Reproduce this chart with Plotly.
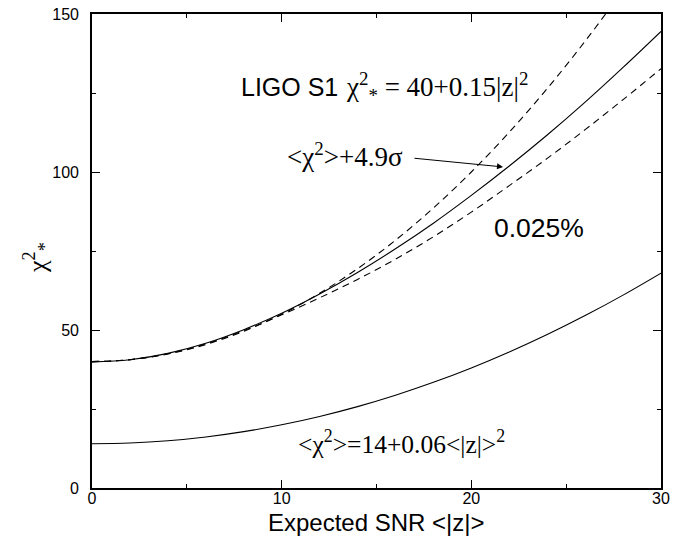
import plotly.graph_objects as go

# Expected SNR grid
snr = [0, 2, 4, 6, 8, 10, 12, 14, 16, 18, 20, 22, 24, 26, 28, 30]

# Mean chi-squared  <chi^2> = 14 + 0.06 <|z|>^2
chi2_mean = [14.0, 14.24, 14.96, 16.16, 17.84, 20.0, 22.64, 25.76, 29.36,
             33.44, 38.0, 43.04, 48.56, 54.56, 61.04, 68.0]

# <chi^2> + 4.9 sigma
chi2_mean_4p9sigma = [39.9, 40.6, 42.6, 45.8, 50.1, 55.3, 61.4, 68.2, 75.7,
                      83.8, 92.6, 101.9, 111.7, 122.1, 133.1, 144.5]

# LIGO S1 threshold  chi^2_* = 40 + 0.15 |z|^2
chi2_threshold = [40.0, 40.6, 42.4, 45.4, 49.6, 55.0, 61.6, 69.4, 78.4,
                  88.6, 100.0, 112.6, 126.4, 141.4, 157.6, 175.0]

# 0.025% false-dismissal level
chi2_0025pct = [40.0, 40.6, 42.5, 45.6, 49.8, 54.8, 60.2, 66.0, 72.4,
                79.5, 87.3, 95.7, 104.3, 113.4, 122.9, 132.7]

x_ticks = [0, 10, 20, 30]
y_ticks = [0, 50, 100, 150]

SANS = "Liberation Sans, Arial, Helvetica, sans-serif"
SERIF = "Liberation Serif, Times New Roman, serif"

fig = go.Figure()

solid = dict(color="black", width=1.1)
dashed = dict(color="black", width=1.1, dash="7px,5px")

fig.add_trace(go.Scatter(x=snr, y=chi2_threshold, mode="lines",
                         line=dict(**dashed, shape="spline")))
fig.add_trace(go.Scatter(x=snr, y=chi2_0025pct, mode="lines",
                         line=dict(**dashed, shape="spline")))
fig.add_trace(go.Scatter(x=snr, y=chi2_mean_4p9sigma, mode="lines",
                         line=dict(**solid, shape="spline")))
fig.add_trace(go.Scatter(x=snr, y=chi2_mean, mode="lines",
                         line=dict(**solid, shape="spline")))

annotations = [
    dict(x=7.75, y=127.0, text="LIGO S1",
         font=dict(family=SANS, size=25, color="black"),
         xanchor="left", yanchor="middle", showarrow=False),
    dict(x=13.3, y=127.0,
         text="χ<sup>2</sup><sub>*</sub> = 40+0.15|z|<sup>2</sup>",
         font=dict(family=SERIF, size=27, color="black"),
         xanchor="left", yanchor="middle", showarrow=False),
    dict(x=10.2, y=105.5, text="&lt;χ<sup>2</sup>&gt;+4.9σ",
         font=dict(family=SERIF, size=27, color="black"),
         xanchor="left", yanchor="middle", showarrow=False),
    dict(x=21.67, y=101.6, ax=16.92, ay=104.4, axref="x", ayref="y",
         text="", showarrow=True, arrowhead=2, arrowsize=1.2,
         arrowwidth=1, arrowcolor="black"),
    dict(x=21.1, y=82.3, text="0.025%",
         font=dict(family=SANS, size=26.5, color="black"),
         xanchor="left", yanchor="middle", showarrow=False),
    dict(x=10.75, y=14.5,
         text="&lt;χ<sup>2</sup>&gt;=14+0.06&lt;|z|&gt;<sup>2</sup>",
         font=dict(family=SERIF, size=25.5, color="black"),
         xanchor="left", yanchor="middle", showarrow=False),
    # axis titles
    dict(xref="paper", yref="paper", x=0.5, y=-0.072,
         text="Expected SNR &lt;|z|&gt;",
         font=dict(family=SANS, size=24, color="black"),
         xanchor="center", yanchor="middle", showarrow=False),
    dict(xref="paper", yref="paper", x=-0.097, y=0.487,
         text="χ<sup>2</sup><sub>*</sub>", textangle=-90,
         font=dict(family=SERIF, size=26, color="black"),
         xanchor="center", yanchor="middle", showarrow=False),
]

axis_common = dict(
    showline=True, linecolor="black", linewidth=1.6, mirror="ticks",
    ticks="inside", ticklen=8, tickwidth=1, tickcolor="black",
    showgrid=False, zeroline=False, automargin=False,
    tickfont=dict(family=SANS, size=16, color="black"),
    minor=dict(ticks="inside", ticklen=4, tickwidth=1, tickcolor="black",
               showgrid=False),
)

fig.update_layout(
    width=688, height=536,
    margin=dict(l=92, r=27, t=14, b=48, autoexpand=False),
    paper_bgcolor="white", plot_bgcolor="white",
    showlegend=False,
    annotations=annotations,
    xaxis=dict(range=[0, 30], tickvals=x_ticks, ticktext=[str(v) for v in x_ticks],
               minor_dtick=5, ticklabelstandoff=-5,
               **axis_common),
    yaxis=dict(range=[0, 150], tickvals=y_ticks, ticktext=[str(v) for v in y_ticks],
               minor_dtick=25, ticklabelstandoff=8,
               **axis_common),
)

fig.write_html("out.html")
